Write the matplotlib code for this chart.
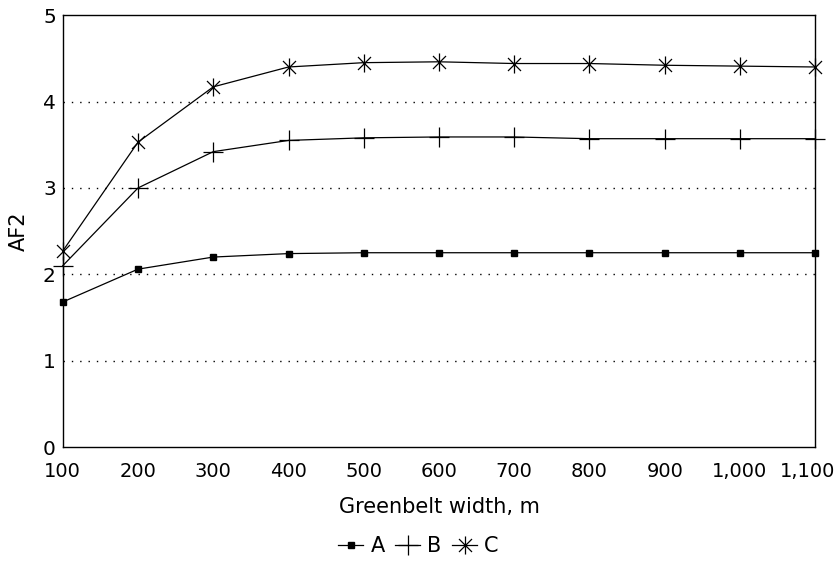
import numpy as np
import matplotlib
matplotlib.use("Agg")
from matplotlib import pyplot as plt
from matplotlib.path import Path
from matplotlib.transforms import ScaledTranslation

plt.rcParams['font.family'] = ['DejaVu Sans']

widths = [100, 200, 300, 400, 500, 600, 700, 800, 900, 1000, 1100]
tick_labels = ['100', '200', '300', '400', '500', '600', '700', '800', '900', '1,000', '1,100']
series_a = [1.68, 2.06, 2.20, 2.24, 2.25, 2.25, 2.25, 2.25, 2.25, 2.25, 2.25]
series_b = [2.10, 3.00, 3.42, 3.55, 3.58, 3.59, 3.59, 3.57, 3.57, 3.57, 3.57]
series_c = [2.27, 3.53, 4.17, 4.40, 4.45, 4.46, 4.44, 4.44, 4.42, 4.41, 4.40]

# asterisk marker: vertical arm plus two diagonals
d = 0.72
asterisk = Path([(0, -1), (0, 1), (-d, -d), (d, d), (-d, d), (d, -d)],
                [Path.MOVETO, Path.LINETO, Path.MOVETO, Path.LINETO, Path.MOVETO, Path.LINETO])

fig = plt.figure(figsize=(8.37, 5.61), dpi=100)
ax = fig.add_axes([0.075, 0.203, 0.899, 0.770])

ax.plot(widths, series_a, color='black', lw=0.9, marker='s', ms=4,
        mfc='black', mec='black', label='A', clip_on=False)
ax.plot(widths, series_b, color='black', lw=0.9, marker='+', ms=14, mew=0.9,
        label='B', clip_on=False)
ax.plot(widths, series_c, color='black', lw=0.9, marker=asterisk, ms=13, mew=0.9,
        label='C', clip_on=False)

ax.set_xlim(100, 1100)
ax.set_ylim(0, 5)
ax.set_xticks(widths)
ax.set_xticklabels(tick_labels)
ax.set_yticks([0, 1, 2, 3, 4, 5])
ax.tick_params(length=0, labelsize=14.5)
ax.tick_params(axis='x', pad=11, labelsize=14)
ax.tick_params(axis='y', pad=5)

# last label would run off the right edge: right-align it just inside
last = ax.get_xticklabels()[-1]
last.set_horizontalalignment('right')
last.set_transform(last.get_transform() + ScaledTranslation(20 / 100, 0, fig.dpi_scale_trans))

for y in [1, 2, 3, 4]:
    ax.axhline(y, color='black', lw=1.0, ls=(0, (1, 5)))
for s in ax.spines.values():
    s.set_linewidth(1.0)

ax.set_xlabel('Greenbelt width, m', fontsize=15, labelpad=11)
ax.set_ylabel('AF2', fontsize=15, labelpad=10)

fig.legend(loc='lower center', bbox_to_anchor=(0.5, -0.025), ncol=3, frameon=False,
           fontsize=15, handlelength=1.2, handletextpad=0.35, columnspacing=0.5)

fig.savefig('out.png', dpi=100)
